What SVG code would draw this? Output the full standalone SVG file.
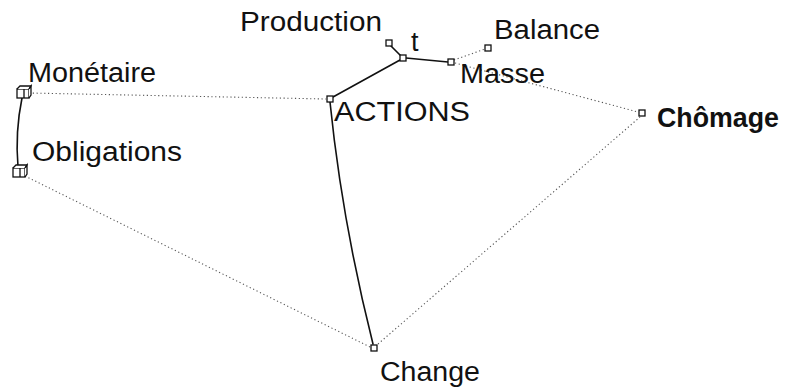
<svg xmlns="http://www.w3.org/2000/svg" width="802" height="388" viewBox="0 0 802 388">
  <style>
    .lbl { font-family: "Liberation Sans", Arial, Helvetica, sans-serif; font-size: 27px; fill: #111; }
    .bold { font-weight: bold; }
    .solid { fill: none; stroke: #111; stroke-width: 1.6; stroke-linecap: round; }
    .dot { fill: none; stroke: #555; stroke-width: 1.1; stroke-dasharray: 1.2 2.6; }
    .box { fill: #fff; stroke: #111; stroke-width: 1.3; }
  </style>
  <defs>
    <g id="cube">
      <rect class="box" x="-6" y="-4" width="12" height="9"/>
      <path class="box" d="M-6,-4 L-3,-7 L8,-7 L6,-4 M1,-4 L1,5"/>
      <path class="box" d="M6,-4 L8,-7 L8,2 L6,5"/>
    </g>
    <g id="sq">
      <rect class="box" x="-3" y="-3" width="6" height="6"/>
    </g>
  </defs>

  <rect width="802" height="388" fill="#fff"/>

  <g id="connectors">
    <path class="dot" d="M29,93 L326,99"/>
    <path class="dot" d="M25,176 L370,347"/>
    <path class="dot" d="M378,344 L640,117"/>
    <path class="dot" d="M455,63 L638,112"/>
    <path class="dot" d="M454,60 L485,49"/>
    <path class="solid" d="M22,98 Q15,132 18,167"/>
    <path class="solid" d="M330,102 Q342,221 373,344"/>
    <path class="solid" d="M333,97 L400,60"/>
    <path class="solid" d="M391,46 L401,56"/>
    <path class="solid" d="M406,58 L448,62"/>
  </g>

  <g id="monetaire">
    <use href="#cube" x="23" y="93"/>
    <text class="lbl" x="28" y="82" textLength="128" lengthAdjust="spacingAndGlyphs">Monétaire</text>
  </g>
  <g id="obligations">
    <use href="#cube" x="19" y="172"/>
    <text class="lbl" x="32" y="161" textLength="150" lengthAdjust="spacingAndGlyphs">Obligations</text>
  </g>
  <g id="actions">
    <use href="#sq" x="330" y="99"/>
    <text class="lbl" x="334" y="121" textLength="136" lengthAdjust="spacingAndGlyphs">ACTIONS</text>
  </g>
  <g id="t">
    <use href="#sq" x="403" y="58"/>
    <text class="lbl" x="411" y="51">t</text>
  </g>
  <g id="production">
    <use href="#sq" x="389" y="43"/>
    <text class="lbl" x="240" y="31" textLength="142" lengthAdjust="spacingAndGlyphs">Production</text>
  </g>
  <g id="masse">
    <use href="#sq" x="451" y="62"/>
    <text class="lbl" x="460" y="83" textLength="85" lengthAdjust="spacingAndGlyphs">Masse</text>
  </g>
  <g id="balance">
    <use href="#sq" x="488" y="48"/>
    <text class="lbl" x="494" y="39" textLength="106" lengthAdjust="spacingAndGlyphs">Balance</text>
  </g>
  <g id="chomage">
    <use href="#sq" x="642" y="113"/>
    <text class="lbl bold" x="657" y="127" textLength="122" lengthAdjust="spacingAndGlyphs">Chômage</text>
  </g>
  <g id="change">
    <use href="#sq" x="374" y="348"/>
    <text class="lbl" x="380" y="381" textLength="100" lengthAdjust="spacingAndGlyphs">Change</text>
  </g>
</svg>
